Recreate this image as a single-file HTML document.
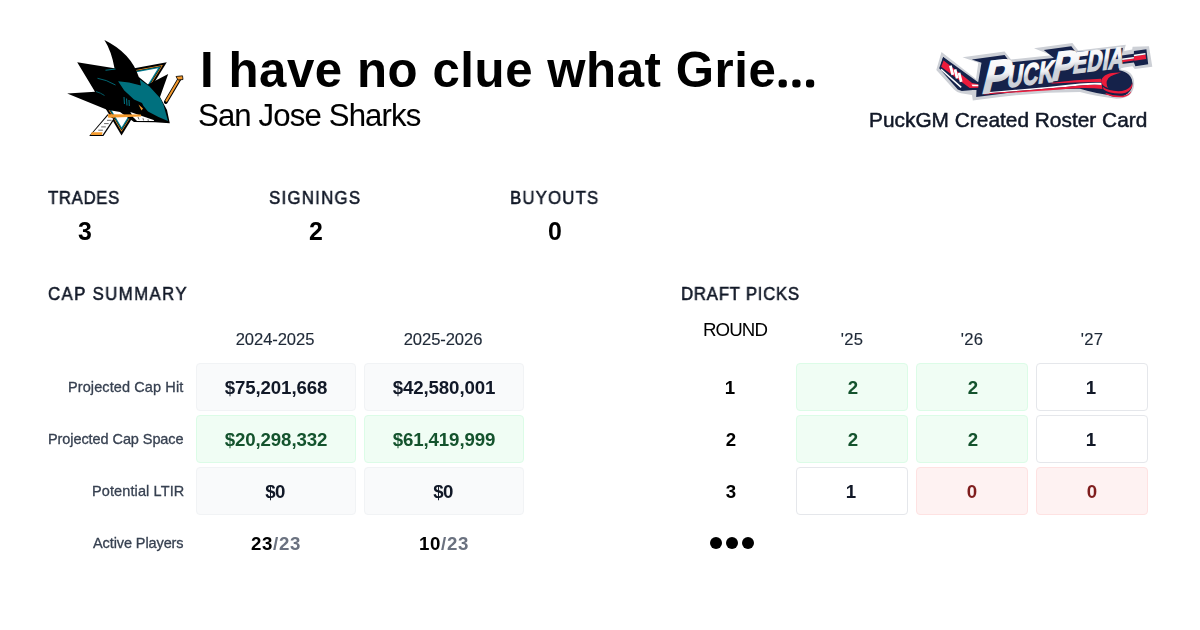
<!DOCTYPE html>
<html><head><meta charset="utf-8">
<style>
html,body{margin:0;padding:0;background:#fff;}
body{width:1200px;height:630px;position:relative;overflow:hidden;font-family:"Liberation Sans",sans-serif;}
.t{position:absolute;white-space:nowrap;line-height:1;will-change:transform;}
.b{position:absolute;box-sizing:border-box;border-radius:4px;border:1px solid;height:48px;}
.g{background:#f9fafb;border-color:#f1f3f5;}
.gr{background:#f0fdf4;border-color:#dcfce7;}
.w{background:#ffffff;border-color:#e5e7eb;}
.rd{background:#fef2f2;border-color:#fee2e2;}
svg{position:absolute;left:0;top:0;}
</style></head><body>
<div class="b g" style="left:196px;top:363px;width:160px"></div>
<div class="b g" style="left:364px;top:363px;width:160px"></div>
<div class="b gr" style="left:196px;top:415px;width:160px"></div>
<div class="b gr" style="left:364px;top:415px;width:160px"></div>
<div class="b g" style="left:196px;top:467px;width:160px"></div>
<div class="b g" style="left:364px;top:467px;width:160px"></div>
<div class="b gr" style="left:796px;top:363px;width:112px"></div>
<div class="b gr" style="left:916px;top:363px;width:112px"></div>
<div class="b w" style="left:1036px;top:363px;width:112px"></div>
<div class="b gr" style="left:796px;top:415px;width:112px"></div>
<div class="b gr" style="left:916px;top:415px;width:112px"></div>
<div class="b w" style="left:1036px;top:415px;width:112px"></div>
<div class="b w" style="left:796px;top:467px;width:112px"></div>
<div class="b rd" style="left:916px;top:467px;width:112px"></div>
<div class="b rd" style="left:1036px;top:467px;width:112px"></div>
<svg width="1200" height="630" viewBox="0 0 1200 630" id="logos">
<g id="shark"><polygon points="87.0,77.0 166.8,62.3 121.5,135.5" fill="#000"/>
<polygon points="90.0,78.4 162.9,64.9 121.5,131.8" fill="#f39a2e"/>
<polygon points="91.1,78.9 161.5,65.9 121.6,130.5" fill="#000"/>
<polygon points="91.8,79.2 160.7,66.5 121.6,129.7" fill="#00778b"/>
<polygon points="93.8,80.1 158.0,68.3 121.6,127.2" fill="#fff"/>
<polygon points="89.2,136 107.6,114.3 115,118.4 103.4,136" fill="#000"/>
<polygon points="91,134.9 108,115.6 113.4,118.8 102.5,134.9" fill="#fff"/>
<line x1="107.0" y1="120.3" x2="111.6" y2="120.3" stroke="#000" stroke-width="0.6"/>
<line x1="104.1" y1="123.6" x2="108.7" y2="123.6" stroke="#000" stroke-width="0.6"/>
<line x1="101.2" y1="126.9" x2="105.8" y2="126.9" stroke="#000" stroke-width="0.6"/>
<line x1="98.3" y1="130.2" x2="102.9" y2="130.2" stroke="#000" stroke-width="0.6"/>
<polygon points="91.6,132.2 102.6,132.2 101.9,134.9 91,134.9" fill="#f39a2e"/>
<path d="M104.4,40 Q111.5,51 114.5,68.3 L77.2,62.2 L95,91.7 L67.2,93.6 L107,109.8 L120,112 L134,122 L155,122.3 L169.8,123.2 L167,110 L160,97 L168.2,74 L148,84.4 L138.8,77 Q131,53 104.4,40 Z" fill="#000"/>
<path d="M118.1,81.2 L129,82.4 L141,85.6 L139.8,79.4 L149.5,86.4 L160.5,98.5 L163.5,105 L168,121 L158.5,117 L148,111.5 L143.5,106 L142,103 L134,99.6 L124.3,90.5 Z" fill="#00707e"/>
<path d="M97.5,78.3 Q106,79.5 115.5,85" stroke="#00707e" stroke-width="0.9" fill="none"/>
<path d="M105.5,70.3 L115.5,69" stroke="#00707e" stroke-width="1.1" fill="none"/>
<path d="M96,91.5 Q101,93 104.5,95.5" stroke="#00707e" stroke-width="0.8" fill="none"/>
<path d="M124,97 L124.5,104 M126.5,98.5 L127,105.5 M129,100 L129.3,106" stroke="#00707e" stroke-width="1.1" fill="none"/>
<polygon points="138.5,104.5 143,108.5 141.5,110.5" fill="#f39a2e"/>
<polygon points="130.3,111.9 153.6,119.9 154.2,121 137,121 133.3,117.2" fill="#fff"/>
<path d="M138,117 L139,119.5 M143,118.2 L143.6,120.5 M148,119.3 L148.3,121" stroke="#000" stroke-width="0.6"/>
<polygon points="107.8,114.2 141,114.6 141.2,116.4 108.2,117.8" fill="#f39a2e"/>
<line x1="180" y1="78" x2="165.8" y2="102" stroke="#000" stroke-width="3.8" stroke-linecap="round"/>
<line x1="179.5" y1="78.6" x2="166" y2="101.5" stroke="#f39a2e" stroke-width="2.0"/>
<polygon points="176,76.5 182.5,75.8 183,79.5 178,80" fill="#f39a2e" stroke="#000" stroke-width="0.8"/></g>
<g id="puck"><path d="M941.5,52 L976,79 L978.3,62.8 L962.5,57.2 L1004.6,51.4 L1011,59.6 L1051.5,55.2 L1034,48.3 L1072.4,42.9 L1078.2,50.4 L1125.8,44.8 L1124.2,51 L1132.2,49.6 L1132.6,46.8 L1149,46.2 L1152.3,66.8 L1134.8,69 L1132.4,66.3 L1121,68 L1120.5,69.6 Q1134,70.5 1134.2,84 Q1133.5,98.6 1116.5,98.8 Q1095,96 1080,92 Q1040,92 1000,97 L972.8,100.6 L972,95 L961,93.2 Q956,92 954,89.6 L936.3,70 Z" fill="#cdd0d6"/>
<path d="M943.2,57 L978.2,82.2 L981.5,62.8 L971.8,59.5 L1004.6,54.9 L1010.2,62.4 L1054,58 L1043.8,50.1 L1071.3,46.2 L1075.6,52 L1122.9,48 L1121.8,55.6 L1133.9,53.8 L1133.9,51.1 L1146.4,49.3 L1148.2,64.3 L1135.4,66.3 L1133.9,62.6 L1119.5,64.3 L1119.2,70.2 Q1132,72.5 1132.3,83.5 Q1131,95 1116,96.2 Q1097,94 1080,88.8 Q1040,88.5 1000,94 L976.2,97 L976.5,90 L961,89.6 L940,68.4 Z" fill="#15224a"/>
<polygon points="943.1,57.1 972.1,81.3 978.4,82.3 978.4,89.5 961.8,91 957.8,89.5 939.2,68.2" fill="#15224a"/>
<polygon points="943.6,60.4 972.1,83 978.3,84.2 978.3,87.8 969.7,88 941.2,66.8" fill="#ec1b3b"/>
<line x1="941" y1="69.3" x2="961.2" y2="87.4" stroke="#fff" stroke-width="1.5"/>
<line x1="950.4" y1="65.6" x2="952.8" y2="74.8" stroke="#fff" stroke-width="2.8"/>
<line x1="955" y1="69.4" x2="957.2" y2="78.4" stroke="#fff" stroke-width="2.8"/>
<line x1="959" y1="72.8" x2="961.2" y2="81.8" stroke="#fff" stroke-width="2.8"/>
<polygon points="971.5,84.6 978.3,84.8 978.3,86.2 972.5,86.2" fill="#fff"/>
<polygon points="1133.9,56.3 1145.6,54.6 1146.1,59 1134.2,60.8" fill="#ec1b3b"/>
<polygon points="1133.9,54.8 1145.4,53.1 1145.6,54.6 1133.9,56.3" fill="#fff"/>
<polygon points="1122.2,60 1133.9,58.4 1133.9,60.6 1122.2,62.2" fill="#ec1b3b"/>
<polygon points="1122.2,58.6 1133.9,57 1133.9,58.4 1122.2,60" fill="#fff"/>
<path d="M1050,83 Q1075,79.6 1101,78.8 L1101.5,82 Q1080,81.6 1053,83.6 Z" fill="#ec1b3b"/>
<path d="M984,92.6 Q1040,87.8 1080,83.4 Q1092,82.4 1101.5,82.8 L1101.5,85 Q1090,84.6 1080,85.4 Q1040,89.4 984,93.6 Z" fill="#fff"/>
<path d="M984,93.6 Q1040,89.4 1080,85.4 Q1092,84.6 1102,85 L1102.5,89 Q1092,87.6 1080,88 Q1040,91 984,94.6 Z" fill="#ec1b3b"/>
<ellipse cx="1117.2" cy="84" rx="15.2" ry="13.1" fill="#15224a"/>
<path d="M1121,72.6 Q1104,72 1101.2,80.5 Q1101,86 1108.2,88 Q1104.8,83 1108.5,78 Q1112.5,74.8 1121,72.6 Z" fill="#ec1b3b"/>
<path d="M1102.6,86.8 Q1110,92 1122,91 Q1131,89 1132.3,82.8 L1132.2,86.5 Q1130,92.6 1122,93.4 Q1110,94 1103.6,89.4 Z" fill="#ec1b3b"/>
<path d="M1105.5,93 Q1115,96.6 1124,95.6 Q1130,94 1131.6,90.2 Q1130.5,96 1123,97.2 Q1114,97.8 1106,94.6 Z" fill="#ec1b3b"/>
<defs><linearGradient id="lg" x1="0" y1="0" x2="0" y2="1"><stop offset="0" stop-color="#ffffff"/><stop offset="0.45" stop-color="#f4f5f7"/><stop offset="0.58" stop-color="#cfd3d9"/><stop offset="1" stop-color="#cfd3d9"/></linearGradient></defs>
<text x="0" y="0" transform="translate(980.5,93.4) rotate(-6) scale(0.9,1) skewX(-22)" font-family="Liberation Sans" font-weight="700" font-size="45" fill="url(#lg)" stroke="url(#lg)" stroke-width="1.7" stroke-linejoin="miter" letter-spacing="0">P</text>
<text x="0" y="0" transform="translate(1006.5,87.4) rotate(-7) scale(0.7,1) skewX(-22)" font-family="Liberation Sans" font-weight="700" font-size="30" fill="url(#lg)" stroke="url(#lg)" stroke-width="1.4" stroke-linejoin="miter" letter-spacing="0.6">UCK</text>
<text x="0" y="0" transform="translate(1050,80.8) rotate(-6) scale(0.86,1) skewX(-22)" font-family="Liberation Sans" font-weight="700" font-size="40" fill="url(#lg)" stroke="url(#lg)" stroke-width="1.6" stroke-linejoin="miter" letter-spacing="0">P</text>
<text x="0" y="0" transform="translate(1072,73.6) rotate(-7) scale(0.72,1) skewX(-22)" font-family="Liberation Sans" font-weight="700" font-size="29" fill="url(#lg)" stroke="url(#lg)" stroke-width="1.4" stroke-linejoin="miter" letter-spacing="0.6">EDIA</text></g>
<rect x="778.6" y="79.4" width="8.2" height="8.2" rx="3" fill="#000"/>
<rect x="792.3" y="79.4" width="8.2" height="8.2" rx="3" fill="#000"/>
<rect x="806" y="79.4" width="8.2" height="8.2" rx="3" fill="#000"/>
<circle cx="716" cy="543" r="6" fill="#000"/>
<circle cx="732" cy="543" r="6" fill="#000"/>
<circle cx="748" cy="543" r="6" fill="#000"/>
</svg>
<div class="t" id="title" style="font-size:49.20px;letter-spacing:0.554px;font-weight:700;color:#000000;top:45.07px;left:200.30px;">I have no clue what Grie<span style="color:transparent">...</span></div>
<div class="t" id="sub" style="font-size:31.10px;letter-spacing:-0.836px;font-weight:400;color:#000000;top:100.15px;-webkit-text-stroke:0.1px #000000;left:198.20px;">San Jose Sharks</div>
<div class="t" id="pgm" style="font-size:20.80px;letter-spacing:0.036px;font-weight:400;color:#111827;top:109.99px;-webkit-text-stroke:0.5px #111827;right:53.06px;">PuckGM Created Roster Card</div>
<div class="t" id="trades" style="font-size:18.70px;letter-spacing:0.684px;font-weight:400;color:#111827;top:188.82px;-webkit-text-stroke:0.55px #111827;transform:scaleX(0.9);transform-origin:left top;left:48.00px;">TRADES</div>
<div class="t" id="signings" style="font-size:18.70px;letter-spacing:1.414px;font-weight:400;color:#111827;top:188.82px;-webkit-text-stroke:0.55px #111827;transform:scaleX(0.9);transform-origin:left top;left:269.08px;">SIGNINGS</div>
<div class="t" id="buyouts" style="font-size:18.70px;letter-spacing:1.290px;font-weight:400;color:#111827;top:188.82px;-webkit-text-stroke:0.55px #111827;transform:scaleX(0.9);transform-origin:left top;left:510.14px;">BUYOUTS</div>
<div class="t" id="n3" style="font-size:24.90px;letter-spacing:0.000px;font-weight:700;color:#000000;top:218.91px;left:-214.54px;width:600px;text-align:center;">3</div>
<div class="t" id="n2" style="font-size:24.90px;letter-spacing:0.000px;font-weight:700;color:#000000;top:218.91px;left:16.46px;width:600px;text-align:center;">2</div>
<div class="t" id="n0" style="font-size:24.90px;letter-spacing:0.000px;font-weight:700;color:#000000;top:218.91px;left:255.00px;width:600px;text-align:center;">0</div>
<div class="t" id="capsum" style="font-size:18.70px;letter-spacing:1.548px;font-weight:400;color:#111827;top:284.82px;-webkit-text-stroke:0.55px #111827;transform:scaleX(0.9);transform-origin:left top;left:48.10px;">CAP SUMMARY</div>
<div class="t" id="draft" style="font-size:18.70px;letter-spacing:0.810px;font-weight:400;color:#111827;top:284.82px;-webkit-text-stroke:0.55px #111827;transform:scaleX(0.9);transform-origin:left top;left:680.62px;">DRAFT PICKS</div>
<div class="t" id="round" style="font-size:18.70px;letter-spacing:-0.855px;font-weight:400;color:#000000;top:321.04px;left:434.85px;width:600px;text-align:center;">ROUND</div>
<div class="t" id="y25" style="font-size:16.60px;letter-spacing:0.360px;font-weight:400;color:#1f2937;top:331.60px;-webkit-text-stroke:0.15px #1f2937;left:552.18px;width:600px;text-align:center;">'25</div>
<div class="t" id="y26" style="font-size:16.60px;letter-spacing:0.360px;font-weight:400;color:#1f2937;top:331.60px;-webkit-text-stroke:0.15px #1f2937;left:672.18px;width:600px;text-align:center;">'26</div>
<div class="t" id="y27" style="font-size:16.60px;letter-spacing:0.360px;font-weight:400;color:#1f2937;top:331.60px;-webkit-text-stroke:0.15px #1f2937;left:792.18px;width:600px;text-align:center;">'27</div>
<div class="t" id="y2425" style="font-size:16.60px;letter-spacing:-0.090px;font-weight:400;color:#1f2937;top:332.06px;-webkit-text-stroke:0.15px #1f2937;left:-25.05px;width:600px;text-align:center;">2024-2025</div>
<div class="t" id="y2526" style="font-size:16.60px;letter-spacing:-0.090px;font-weight:400;color:#1f2937;top:332.06px;-webkit-text-stroke:0.15px #1f2937;left:142.95px;width:600px;text-align:center;">2025-2026</div>
<div class="t" id="lbl1" style="font-size:14.50px;letter-spacing:0.101px;font-weight:400;color:#374151;top:379.97px;-webkit-text-stroke:0.3px #374151;right:1016.73px;">Projected Cap Hit</div>
<div class="t" id="lbl2" style="font-size:14.50px;letter-spacing:-0.080px;font-weight:400;color:#374151;top:431.97px;-webkit-text-stroke:0.3px #374151;right:1016.54px;">Projected Cap Space</div>
<div class="t" id="lbl3" style="font-size:14.50px;letter-spacing:0.111px;font-weight:400;color:#374151;top:483.97px;-webkit-text-stroke:0.3px #374151;right:1016.01px;">Potential LTIR</div>
<div class="t" id="lbl4" style="font-size:14.50px;letter-spacing:-0.097px;font-weight:400;color:#374151;top:535.97px;-webkit-text-stroke:0.3px #374151;right:1016.56px;">Active Players</div>
<div class="t" id="v11" style="font-size:18.70px;letter-spacing:-0.126px;font-weight:700;color:#111827;top:379.30px;left:-24.01px;width:600px;text-align:center;">$75,201,668</div>
<div class="t" id="v12" style="font-size:18.70px;letter-spacing:-0.126px;font-weight:700;color:#111827;top:379.30px;left:143.99px;width:600px;text-align:center;">$42,580,001</div>
<div class="t" id="v21" style="font-size:18.70px;letter-spacing:-0.126px;font-weight:700;color:#14532d;top:431.30px;left:-24.01px;width:600px;text-align:center;">$20,298,332</div>
<div class="t" id="v22" style="font-size:18.70px;letter-spacing:-0.126px;font-weight:700;color:#14532d;top:431.30px;left:143.99px;width:600px;text-align:center;">$61,419,999</div>
<div class="t" id="v31" style="font-size:18.70px;letter-spacing:-0.720px;font-weight:700;color:#111827;top:483.30px;left:-24.65px;width:600px;text-align:center;">$0</div>
<div class="t" id="v32" style="font-size:18.70px;letter-spacing:-0.720px;font-weight:700;color:#111827;top:483.30px;left:143.35px;width:600px;text-align:center;">$0</div>
<div class="t" id="v41" style="font-size:18.70px;letter-spacing:0.675px;font-weight:700;color:#000000;top:535.04px;left:-23.94px;width:600px;text-align:center;">23<span style="color:#6b7280">/23</span></div>
<div class="t" id="v42" style="font-size:18.70px;letter-spacing:0.675px;font-weight:700;color:#000000;top:535.04px;left:144.06px;width:600px;text-align:center;">10<span style="color:#6b7280">/23</span></div>
<div class="t" id="r1" style="font-size:18.70px;letter-spacing:0.000px;font-weight:700;color:#000000;top:378.82px;left:430.29px;width:600px;text-align:center;">1</div>
<div class="t" id="r2" style="font-size:18.70px;letter-spacing:0.000px;font-weight:700;color:#000000;top:430.82px;left:431.42px;width:600px;text-align:center;">2</div>
<div class="t" id="r3" style="font-size:18.70px;letter-spacing:0.000px;font-weight:700;color:#000000;top:482.82px;left:430.97px;width:600px;text-align:center;">3</div>
<div class="t" id="d11" style="font-size:18.70px;letter-spacing:0.000px;font-weight:700;color:#14532d;top:378.82px;left:552.90px;width:600px;text-align:center;">2</div>
<div class="t" id="d12" style="font-size:18.70px;letter-spacing:0.000px;font-weight:700;color:#14532d;top:378.82px;left:672.90px;width:600px;text-align:center;">2</div>
<div class="t" id="d13" style="font-size:18.70px;letter-spacing:0.000px;font-weight:700;color:#111827;top:378.82px;left:791.10px;width:600px;text-align:center;">1</div>
<div class="t" id="d21" style="font-size:18.70px;letter-spacing:0.000px;font-weight:700;color:#14532d;top:430.82px;left:552.90px;width:600px;text-align:center;">2</div>
<div class="t" id="d22" style="font-size:18.70px;letter-spacing:0.000px;font-weight:700;color:#14532d;top:430.82px;left:672.90px;width:600px;text-align:center;">2</div>
<div class="t" id="d23" style="font-size:18.70px;letter-spacing:0.000px;font-weight:700;color:#111827;top:430.82px;left:791.10px;width:600px;text-align:center;">1</div>
<div class="t" id="d31" style="font-size:18.70px;letter-spacing:0.000px;font-weight:700;color:#111827;top:482.82px;left:551.10px;width:600px;text-align:center;">1</div>
<div class="t" id="d32" style="font-size:18.70px;letter-spacing:0.000px;font-weight:700;color:#7f1d1d;top:482.82px;left:672.00px;width:600px;text-align:center;">0</div>
<div class="t" id="d33" style="font-size:18.70px;letter-spacing:0.000px;font-weight:700;color:#7f1d1d;top:482.82px;left:792.00px;width:600px;text-align:center;">0</div>
</body></html>
